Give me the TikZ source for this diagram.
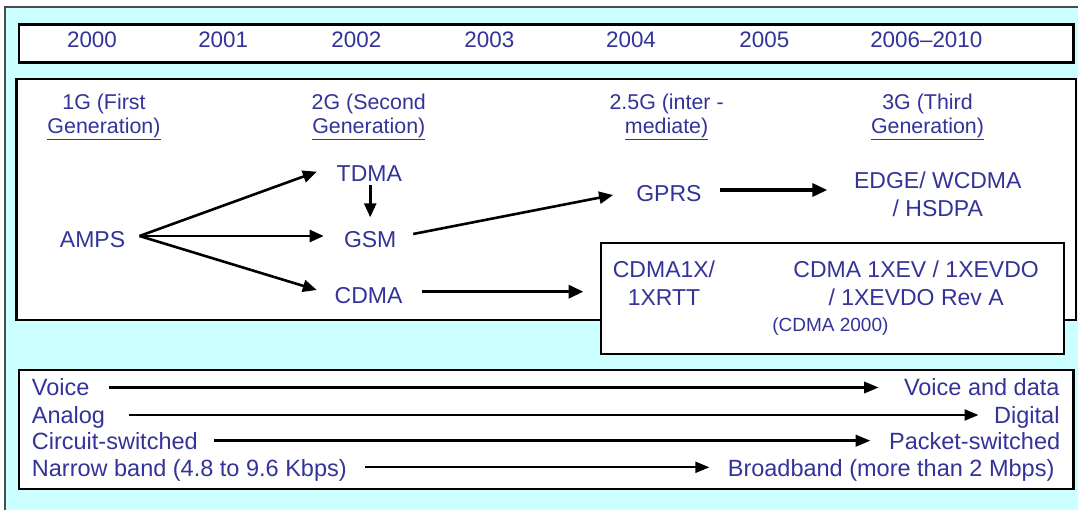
\documentclass[tikz,border=0pt]{standalone}
\usepackage{fontspec}
\setmainfont{Liberation Sans}
\usetikzlibrary{arrows.meta}
\definecolor{txt}{HTML}{333399}
\definecolor{cyanbg}{HTML}{CCFFFF}
\begin{document}
\begin{tikzpicture}[x=1pt,y=-1pt,
  lbl/.style={text=txt,inner sep=0pt,font=\fontsize{23}{28}\selectfont,align=center},
  yr/.style={text=txt,inner sep=0pt,font=\fontsize{22.4}{26}\selectfont},
  hdr/.style={text=txt,inner sep=0pt,font=\fontsize{21.4}{24.5}\selectfont,align=center},
  rowtxt/.style={text=txt,inner sep=0pt,font=\fontsize{23.5}{27}\selectfont},
  smalltxt/.style={text=txt,inner sep=0pt,font=\fontsize{19}{22}\selectfont},
  panel/.style={draw=black,line width=2.2pt,fill=white},
  arr/.style={-{Triangle[length=14pt,width=12pt]},line width=2.6pt},
  tarr/.style={-{Triangle[length=15pt,width=13pt]},line width=3.4pt},
  rowthick/.style={-{Triangle[length=15pt,width=11pt]},line width=3.5pt},
  rowthin/.style={-{Triangle[length=14pt,width=11pt]},line width=2.2pt}
]
\useasboundingbox (0,0) rectangle (1078,510);
% background
\fill[cyanbg] (5,7) rectangle (1078,510);
\draw[draw=black!70,line width=1.5pt] (5,510) -- (5,7) -- (1078,7);

% years
\draw[panel] (19,24.5) rectangle (1073.5,62.5);
\node[yr] (y0) at (92,39.5) {2000};
\node[yr] (y1) at (223.2,39.5) {2001};
\node[yr] (y2) at (356.4,39.5) {2002};
\node[yr] (y3) at (489.4,39.5) {2003};
\node[yr] (y4) at (631,39.5) {2004};
\node[yr] (y5) at (764.3,39.5) {2005};
\node[yr] (y6) at (926.3,39.5) {2006–2010};

% middle panel
\draw[panel] (16.5,79) rectangle (1076,320);
\draw[panel] (601,243) rectangle (1064,354);

\node[hdr] (h1) at (104,117) {1G (First\\\underline{Generation)}};
\node[hdr] (h2) at (368.8,117) {2G (Second\\\underline{Generation)}};
\node[hdr] (h3) at (666.6,117) {2.5G (inter -\\\underline{mediate)}};
\node[hdr] (h4) at (927.5,117) {3G (Third\\\underline{Generation)}};

\node[lbl] (amps) at (92.5,240) {AMPS};
\node[lbl] (tdma) at (369.3,174) {TDMA};
\node[lbl] (gsm) at (370.2,240) {GSM};
\node[lbl] (cdma) at (368.5,296) {CDMA};
\node[lbl] (gprs) at (668.9,194) {GPRS};
\node[lbl] (edge) at (937.8,194) {EDGE/ WCDMA\\/ HSDPA};
\node[lbl] (cdma1x) at (664,283.4) {CDMA1X/\\1XRTT};
\node[lbl] (evdo) at (916.1,283.6) {CDMA 1XEV / 1XEVDO\\/ 1XEVDO Rev A};
\node[smalltxt] (c2000) at (830.4,327) {(CDMA 2000)};

\draw[arr] ([shift={(47,-4)}]amps.center) -- ([shift={(-52.5,-2.3)}]tdma.center);
\draw[arr] ([shift={(47,-4)}]amps.center) -- ([shift={(-46.5,-4)}]gsm.center);
\draw[arr] ([shift={(47,-4)}]amps.center) -- ([shift={(-51.7,-6)}]cdma.center);
\draw[arr] ([shift={(0.9,11)}]tdma.center) -- ([shift={(0,-22.7)}]gsm.center);
\draw[arr] ([shift={(43,-6)}]gsm.center) -- ([shift={(-55.8,1)}]gprs.center);
\draw[tarr] ([shift={(50.9,-4)}]gprs.center) -- ([shift={(-110.5,-4)}]edge.center);
\draw[tarr] ([shift={(53.3,-4.3)}]cdma.center) -- ([shift={(-80.5,8.3)}]cdma1x.center);

% bottom panel
\draw[panel] (19,370) rectangle (1073.5,489);
\node[rowtxt,anchor=base west] (vL) at (31.7,395) {Voice};
\node[rowtxt,anchor=base west] (aL) at (31.7,423.3) {Analog};
\node[rowtxt,anchor=base west] (cL) at (31.7,449.3) {Circuit-switched};
\node[rowtxt,anchor=base west] (nL) at (31.7,476) {Narrow band (4.8 to 9.6 Kbps)};
\node[rowtxt,anchor=base east] (vR) at (1059.7,395) {Voice and data};
\node[rowtxt,anchor=base east] (aR) at (1059.7,423.3) {Digital};
\node[rowtxt,anchor=base east] (cR) at (1060.4,449.3) {Packet-switched};
\node[rowtxt,anchor=base east] (nR) at (1054.6,476) {Broadband (more than 2 Mbps)};

\draw[rowthick] ([shift={(19.6,-7.5)}]vL.base east) -- ([shift={(-24.8,-7.5)}]vR.base west);
\draw[rowthin] ([shift={(23.5,-8.3)}]aL.base east) -- ([shift={(-15.5,-8.3)}]aR.base west);
\draw[rowthick] ([shift={(16.1,-8.6)}]cL.base east) -- ([shift={(-18.2,-8.6)}]cR.base west);
\draw[rowthin] ([shift={(18.3,-8.7)}]nL.base east) -- ([shift={(-18.3,-8.7)}]nR.base west);
\end{tikzpicture}
\end{document}
